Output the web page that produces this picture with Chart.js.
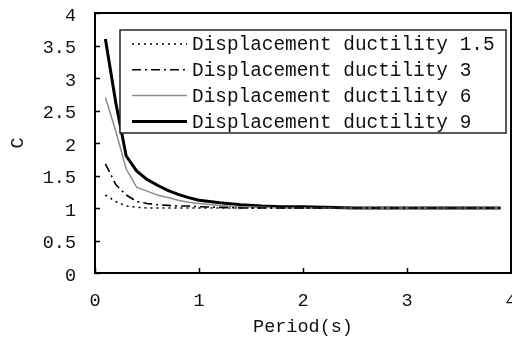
<!DOCTYPE html>
<html>
<head>
<meta charset="utf-8">
<script src="https://cdn.jsdelivr.net/npm/chart.js@4/dist/chart.umd.min.js"></script>
<style>
html,body{margin:0;padding:0;background:#fff;}
#wrap{width:512px;height:341px;}
</style>
</head>
<body>
<div id="wrap"><canvas id="c" width="512" height="341"></canvas></div>
<script>
const periods = [0.1,0.2,0.3,0.4,0.5,0.6,0.7,0.8,0.9,1.0,1.2,1.4,1.6,1.8,2.0,2.5,3.0,3.5,3.9];
const mu15 = [1.2,1.1,1.03,1.01,1.0,1.0,1.0,1.0,1.0,1.0,1.0,1.0,1.0,1.0,1.0,1.0,1.0,1.0,1.0];
const mu3  = [1.68,1.36,1.2,1.1,1.07,1.05,1.04,1.03,1.03,1.02,1.01,1.0,1.0,1.0,1.0,1.0,1.0,1.0,1.0];
const mu6  = [2.7,2.18,1.6,1.32,1.26,1.2,1.16,1.12,1.09,1.07,1.04,1.02,1.01,1.0,1.0,1.0,1.0,1.0,1.0];
const mu9  = [3.6,2.62,1.8,1.57,1.44,1.35,1.27,1.21,1.16,1.12,1.08,1.05,1.03,1.02,1.02,1.0,1.0,1.0,1.0];
const seriesLabels = ['Displacement ductility 1.5','Displacement ductility 3','Displacement ductility 6','Displacement ductility 9'];
const xTicks = [0,1,2,3,4];
const yTicks = [0,0.5,1,1.5,2,2.5,3,3.5,4];
const yTickLabels = ['0','0.5','1','1.5','2','2.5','3','3.5','4'];

const FONT = "'Liberation Mono', 'DejaVu Sans Mono', monospace";
const toPts = arr => periods.map((p,i)=>({x:p,y:arr[i]}));

const frame = {
  id:'frame',
  afterDraw(chart){
    const {ctx, chartArea:a, scales} = chart;
    ctx.save();
    ctx.strokeStyle = '#000';
    ctx.lineWidth = 2;
    ctx.strokeRect(a.left, a.top, a.right - a.left, a.bottom - a.top);
    ctx.lineWidth = 1.5;
    ctx.beginPath();
    scales.y.ticks.forEach(t=>{
      const y = Math.round(scales.y.getPixelForValue(t.value))+0.5;
      ctx.moveTo(a.left, y); ctx.lineTo(a.left+5, y);
    });
    scales.x.ticks.forEach(t=>{
      const x = Math.round(scales.x.getPixelForValue(t.value))+0.5;
      ctx.moveTo(x, a.bottom); ctx.lineTo(x, a.bottom-5);
    });
    ctx.stroke();

    // legend inside plot
    const lx = 120, ly = 30, lw = 386, lh = 103;
    ctx.fillStyle = '#fff';
    ctx.fillRect(lx, ly, lw, lh);
    ctx.strokeStyle = '#222';
    ctx.lineWidth = 1.5;
    ctx.strokeRect(lx, ly, lw, lh);
    chart.data.datasets.forEach((ds,i)=>{
      const yy = 44 + i*25.8;
      ctx.save();
      ctx.strokeStyle = ds.borderColor;
      ctx.lineWidth = ds.borderWidth;
      ctx.setLineDash(ds.borderDash || []);
      ctx.beginPath();
      ctx.moveTo(132, yy); ctx.lineTo(187, yy);
      ctx.stroke();
      ctx.restore();
      ctx.fillStyle = '#111';
      ctx.font = "19.4px " + FONT;
      ctx.textBaseline = 'middle';
      ctx.textAlign = 'left';
      ctx.fillText(ds.label, 192, yy+1);
    });
    ctx.restore();
  }
};

new Chart(document.getElementById('c'), {
  type:'line',
  data:{
    datasets:[
      {label:seriesLabels[0], data:toPts(mu15), borderColor:'#000', borderWidth:1.5, borderDash:[2,4], pointRadius:0, tension:0, fill:false},
      {label:seriesLabels[1], data:toPts(mu3), borderColor:'#000', borderWidth:1.6, borderDash:[9,4,2,4], pointRadius:0, tension:0, fill:false},
      {label:seriesLabels[2], data:toPts(mu6), borderColor:'#8c8c8c', borderWidth:1.5, pointRadius:0, tension:0, fill:false},
      {label:seriesLabels[3], data:toPts(mu9), borderColor:'#000', borderWidth:3, pointRadius:0, tension:0, fill:false}
    ]
  },
  options:{
    responsive:false,
    animation:false,
    devicePixelRatio:1,
    layout:{padding:{top:13,right:1,left:0,bottom:0}},
    plugins:{legend:{display:false}, tooltip:{enabled:false}},
    scales:{
      x:{
        type:'linear', min:0, max:4,
        afterBuildTicks:s=>{ s.ticks = xTicks.map(v=>({value:v})); },
        afterFit:s=>{ s.height = 68; s.paddingRight = 0; s.paddingLeft = 0; },
        grid:{display:false, drawTicks:false},
        border:{display:true, color:'#000', width:2},
        ticks:{color:'#111', font:{family:FONT, size:18.5}, padding:17, maxRotation:0, autoSkip:false,
               callback:(v)=>String(v)},
        title:{display:true, text:'Period(s)', color:'#111', font:{family:FONT, size:18.5}, padding:{top:0,bottom:3}}
      },
      y:{
        type:'linear', min:0, max:4,
        afterBuildTicks:s=>{ s.ticks = yTicks.map(v=>({value:v})); },
        afterFit:s=>{ s.width = 95; s.paddingTop = 0; s.paddingBottom = 0; },
        grid:{display:false, drawTicks:false},
        border:{display:true, color:'#000', width:2},
        ticks:{color:'#111', font:{family:FONT, size:18.5}, padding:19, labelOffset:3, autoSkip:false,
               callback:(v,i)=>yTickLabels[yTicks.indexOf(v)]},
        title:{display:true, text:'C', color:'#111', font:{family:FONT, size:18.5}, padding:{top:7,bottom:0}}
      }
    }
  },
  plugins:[frame]
});
</script>
</body>
</html>
